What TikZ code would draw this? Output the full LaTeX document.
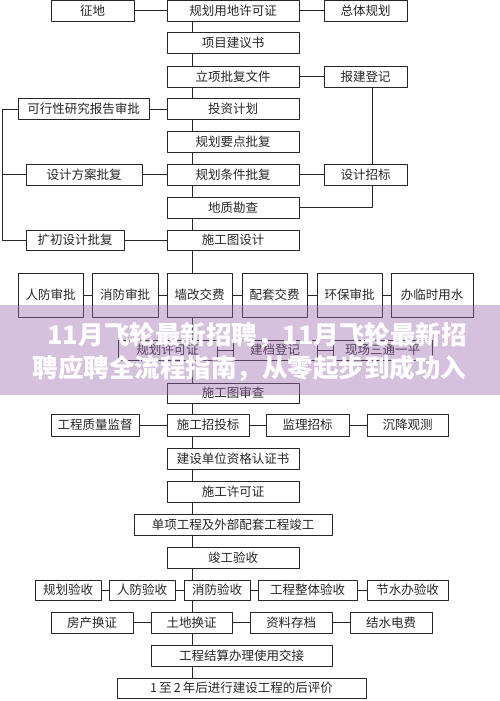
\documentclass[tikz,border=0pt]{standalone}
\usepackage{fontspec}
\setmainfont{Noto Sans CJK SC}

\definecolor{flowline}{HTML}{262626}
\definecolor{bandpurple}{HTML}{9A6BAE}

\begin{document}
\begin{tikzpicture}[
  x=1pt,
  y=-1pt,
  line join=round,
  box/.style={draw=flowline,line width=0.9pt,minimum height=21,inner sep=0pt,
    text=flowline,font=\fontsize{12.5}{14}\selectfont},
  mainbox/.style={box,minimum width=132},
  link/.style={draw=flowline,line width=0.9pt},
  bandtext/.style={text=white,font=\fontsize{25.5}{28}\selectfont\bfseries,inner sep=0pt}
]
  % Frame of the original image.
  \useasboundingbox (0,0) rectangle (500,701);

  % Trunk and side rails.
  \coordinate (trunk) at (192,0);
  \coordinate (lrail) at (2,0);
  \coordinate (rrail) at (372,0);

  % Planning stage.
  \node[box,minimum width=83] (zd) at (92.5,10.75) {征地};
  \node[mainbox,minimum height=20.5] (ghyd) at (233,10.75) {规划用地许可证};
  \node[box,minimum width=83,minimum height=20.5] (ztgh) at (365.5,10.75) {总体规划};
  \node[mainbox] (xmjy) at (233,43) {项目建议书};
  \node[mainbox] (lxpf) at (233,76.5) {立项批复文件};
  \node[box,minimum width=83] (bjdj) at (365.5,76.5) {报建登记};
  \node[mainbox] (tzjh) at (233,109) {投资计划};
  \node[box,minimum width=131] (kxyj) at (83.5,109) {可行性研究报告审批};
  \node[mainbox] (ghyd2) at (233,141.5) {规划要点批复};
  \node[mainbox] (ghtj) at (233,174.5) {规划条件批复};
  \node[box,minimum width=116] (sjfa) at (84,174.5) {设计方案批复};
  \node[box,minimum width=83] (sjzb) at (365.5,174.5) {设计招标};
  \node[mainbox] (dzkc) at (233,207.5) {地质勘查};
  \node[mainbox,minimum height=20] (sgtsj) at (233,240) {施工图设计};
  \node[box,minimum width=98,minimum height=20] (kcsj) at (75,240) {扩初设计批复};

  % Fees and approvals row.
  \node[box,minimum width=65,minimum height=44] (rfsp) at (50.5,295) {人防审批};
  \node[box,minimum width=66,minimum height=44] (xfsp) at (125,295) {消防审批};
  \node[box,minimum width=65,minimum height=44] (gjf) at (199.5,295) {墙改交费};
  \node[box,minimum width=65,minimum height=44] (ptjf) at (274.5,295) {配套交费};
  \node[box,minimum width=65,minimum height=44] (hbsp) at (349.5,295) {环保审批};
  \node[box,minimum width=82,minimum height=44] (lsys) at (432,295) {办临时用水};

  \node[box,minimum width=99,minimum height=20] (ghxk) at (167.5,350) {规划许可证};
  \node[box,minimum width=84,minimum height=20] (jddj) at (275,350) {建档登记};
  \node[box,minimum width=99,minimum height=20] (stpy) at (382.5,350) {现场三通一平};

  % Construction stage.
  \node[mainbox,minimum height=20] (sgsc) at (233,393) {施工图审查};
  \node[box,minimum width=82,minimum height=22] (sgzt) at (208,425) {施工招投标};
  \node[box,minimum width=88,minimum height=22] (zljd) at (95,425) {工程质量监督};
  \node[box,minimum width=83,minimum height=22] (jlzb) at (307.5,425) {监理招标};
  \node[box,minimum width=81,minimum height=22] (cjgc) at (407.5,425) {沉降观测};
  \node[mainbox] (rzs) at (233,458.5) {建设单位资格认证书};
  \node[mainbox] (xkz) at (233,491.5) {施工许可证};
  \node[box,minimum width=198] (dxjg) at (233,524.5) {单项工程及外部配套工程竣工};
  \node[mainbox] (jgys) at (233,557.5) {竣工验收};

  % Acceptance and hand-over.
  \node[box,minimum width=66,minimum height=20] (ghys) at (68,590) {规划验收};
  \node[box,minimum width=66,minimum height=20] (rfys) at (142,590) {人防验收};
  \node[box,minimum width=66,minimum height=20] (xfys) at (217,590) {消防验收};
  \node[box,minimum width=99,minimum height=20] (ztys) at (307.5,590) {工程整体验收};
  \node[box,minimum width=81,minimum height=20] (jsys) at (407.5,590) {节水办验收};
  \node[box,minimum width=82] (fchz) at (92,622.5) {房产换证};
  \node[box,minimum width=81] (tdhz) at (191.5,622.5) {土地换证};
  \node[box,minimum width=82] (zlcd) at (291,622.5) {资料存档};
  \node[box,minimum width=82] (jsdf) at (391,622.5) {结水电费};
  \node[box,minimum width=181] (gcjs) at (241.5,655.5) {工程结算办理使用交接};
  \node[box,minimum width=249,minimum height=20] (hpj) at (241.5,688) {1\,至\,2\,年后进行建设工程的后评价};

  % Trunk at x=192 between consecutive steps.
  \foreach \a/\b in {ghyd/xmjy,xmjy/lxpf,lxpf/tzjh,tzjh/ghyd2,ghyd2/ghtj,ghtj/dzkc,
    dzkc/sgtsj,sgtsj/gjf,gjf/ghxk,ghxk/sgsc,sgsc/sgzt,sgzt/rzs,rzs/xkz,xkz/dxjg,
    dxjg/jgys,jgys/xfys,xfys/tdhz,tdhz/gcjs,gcjs/hpj} {
    \draw[link] (\a.south -| trunk) -- (\b.north -| trunk);
  }

  % Side branches.
  \foreach \a/\b in {zd/ghyd,ghyd/ztgh,lxpf/bjdj,kxyj/tzjh,sjfa/ghtj,ghtj/sjzb,kcsj/sgtsj,
    rfsp/xfsp,xfsp/gjf,gjf/ptjf,ptjf/hbsp,hbsp/lsys,ghxk/jddj,jddj/stpy,
    zljd/sgzt,sgzt/jlzb,jlzb/cjgc,ghys/rfys,rfys/xfys,xfys/ztys,ztys/jsys,
    fchz/tdhz,tdhz/zlcd,zlcd/jsdf} {
    \draw[link] (\a.east) -- (\b.west);
  }

  % Left rail for the design approvals.
  \draw[link] (kxyj.west) -- (kxyj.west -| lrail) |- (kcsj.west);
  \draw[link] (sjfa.west -| lrail) -- (sjfa.west);

  % Right rail from registration through design tender to survey.
  \draw[link] (bjdj.south -| rrail) -- (sjzb.north -| rrail);
  \draw[link] (sjzb.south -| rrail) |- (dzkc.east);

  % Title band over the chart.
  \fill[bandpurple,opacity=0.42] (0,305) rectangle (500,395);
  \node[bandtext] (title1) at (257,335) {11月飞轮最新招聘，11月飞轮最新招};
  \node[bandtext] (title2) at (249.5,368) {聘应聘全流程指南，从零起步到成功入};
\end{tikzpicture}
\end{document}
